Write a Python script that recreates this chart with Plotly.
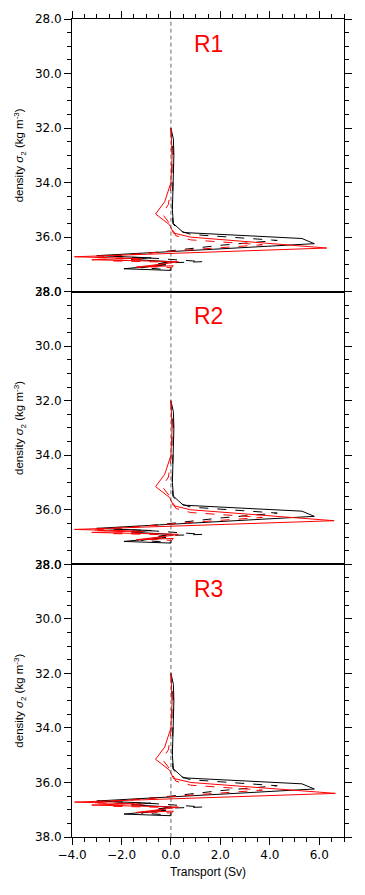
import plotly.graph_objects as go

# ---- data ----
panel_labels = ["R1", "R2", "R3"]

bs_sigma = [32.0, 32.4, 33.0, 34.0, 35.0, 35.5, 35.83, 36.05, 36.24, 36.68, 36.76, 36.82, 36.9, 36.97, 37.02, 37.16, 37.22, 37.1]
bs_T = [0.0, 0.1, 0.12, 0.08, 0.06, 0.1, 0.5, 5.3, 5.8, -3.0, -0.8, -1.6, 0.0, -0.5, -0.2, -1.9, 0.0, 0.0]

bd_sigma = [32.0, 33.0, 34.0, 35.0, 35.5, 35.75, 35.9, 36.12, 36.3, 36.55, 36.7, 36.78, 36.9, 36.95, 37.05, 37.12, 37.2]
bd_T = [0.0, 0.1, 0.08, 0.05, 0.08, 0.3, 0.8, 4.3, 2.0, -0.5, -2.5, -0.6, 1.3, -0.3, -0.6, -1.2, 0.0]

rs_sigma = [32.0, 33.0, 34.0, 34.7, 35.15, 35.55, 35.85, 36.0, 36.4, 36.72, 36.78, 36.83, 36.9, 36.97, 37.1, 37.05, 37.15]
rs_T_R1 = [0.0, 0.05, 0.0, -0.25, -0.62, -0.05, 0.1, 0.8, 6.3, -3.9, -1.5, -3.2, 0.3, -0.2, -1.4, 0.1, 0.0]
rs_T_R2 = [0.0, 0.05, 0.0, -0.25, -0.62, -0.05, 0.1, 0.8, 6.6, -3.9, -1.5, -3.2, 0.3, -0.2, -1.4, 0.1, 0.0]
rs_T_R3 = [0.0, 0.05, 0.0, -0.25, -0.62, -0.05, 0.1, 0.8, 6.65, -3.9, -1.5, -3.2, 0.3, -0.2, -1.4, 0.1, 0.0]

rd_sigma = [32.0, 33.0, 34.0, 34.8, 35.15, 35.5, 35.95, 36.1, 36.28, 36.45, 36.75, 36.8, 36.87, 36.92, 37.0, 37.08, 37.12]
rd_T = [0.0, 0.05, 0.02, -0.1, -0.35, -0.05, 0.2, 0.8, 3.7, 1.0, -3.2, -1.0, -2.5, 0.1, -0.4, -1.0, 0.0]

x_tickvals = [-4, -2, 0, 2, 4, 6]
y_tickvals = [28, 30, 32, 34, 36, 38]

rs_by_panel = [rs_T_R1, rs_T_R2, rs_T_R3]

fig = go.Figure()

FONT = "Liberation Sans, Arial, Helvetica, sans-serif"
TICKFONT = "DejaVu Sans, sans-serif"
n = 3
dom_h = 1.0 / n

for i in range(n):
    k = i + 1
    xa = "x" if k == 1 else f"x{k}"
    ya = "y" if k == 1 else f"y{k}"
    fig.add_trace(go.Scatter(x=bs_T, y=bs_sigma, mode="lines", xaxis=xa, yaxis=ya,
                             line=dict(color="black", width=1), showlegend=False))
    fig.add_trace(go.Scatter(x=bd_T, y=bd_sigma, mode="lines", xaxis=xa, yaxis=ya,
                             line=dict(color="black", width=1, dash="dash"), showlegend=False))
    fig.add_trace(go.Scatter(x=rs_by_panel[i], y=rs_sigma, mode="lines", xaxis=xa, yaxis=ya,
                             line=dict(color="red", width=1), showlegend=False))
    fig.add_trace(go.Scatter(x=rd_T, y=rd_sigma, mode="lines", xaxis=xa, yaxis=ya,
                             line=dict(color="red", width=1, dash="dash"), showlegend=False))

    top = 1 - i * dom_h
    bot = 1 - (i + 1) * dom_h
    xkey = "xaxis" if k == 1 else f"xaxis{k}"
    ykey = "yaxis" if k == 1 else f"yaxis{k}"

    xcfg = dict(range=[-4, 7], anchor=ya, showline=True, linecolor="black", linewidth=1,
                mirror=True, showgrid=False, zeroline=False, automargin=False,
                tickvals=x_tickvals, tickformat=".1f",
                tickfont=dict(family=TICKFONT, size=12, color="black"))
    if k == 1:
        xcfg.update(side="top", ticks="outside", ticklen=7, tickcolor="black", showticklabels=False,
                    minor=dict(ticks="outside", dtick=0.5, tick0=0, ticklen=4, tickcolor="black"))
    elif k == n:
        xcfg.update(side="bottom", ticks="outside", ticklen=7, tickcolor="black", showticklabels=True,
                    minor=dict(ticks="outside", dtick=0.5, tick0=0, ticklen=4, tickcolor="black"),
                    title=dict(text="Transport (Sv)", font=dict(family=FONT, size=12, color="black"), standoff=6))
    else:
        xcfg.update(ticks="", showticklabels=False)
    if k > 1:
        xcfg["matches"] = "x"
    fig.layout[xkey] = xcfg

    fig.layout[ykey] = dict(domain=[bot, top], range=[38, 28], anchor=xa, showline=True,
                            linecolor="black", linewidth=1, mirror="ticks", showgrid=False,
                            zeroline=False, automargin=False, tickvals=y_tickvals, tickformat=".1f",
                            ticks="outside", ticklen=7, tickcolor="black",
                            minor=dict(ticks="outside", dtick=0.5, tick0=28, ticklen=4, tickcolor="black"),
                            tickfont=dict(family=TICKFONT, size=12, color="black"),
                            title=dict(text="density <i>σ</i><sub>2</sub> (kg m<sup>-3</sup>)",
                                       font=dict(family=FONT, size=11.5, color="black"), standoff=8))

    fig.add_shape(type="line", x0=0, x1=0, y0=0, y1=1, xref=xa, yref=f"{ya} domain",
                  line=dict(color="#444444", width=0.8, dash="4px,3px"))
    fig.add_annotation(x=1.5, y=28.9, xref=xa, yref=ya, text=panel_labels[i], showarrow=False,
                       font=dict(family=FONT, size=23, color="red"))

fig.update_layout(width=365, height=895, margin=dict(l=72, r=21, t=19, b=58),
                  plot_bgcolor="white", paper_bgcolor="white", showlegend=False)

fig.write_html("out.html", config={"displayModeBar": False},
               post_script="document.body.style.margin='0';")
